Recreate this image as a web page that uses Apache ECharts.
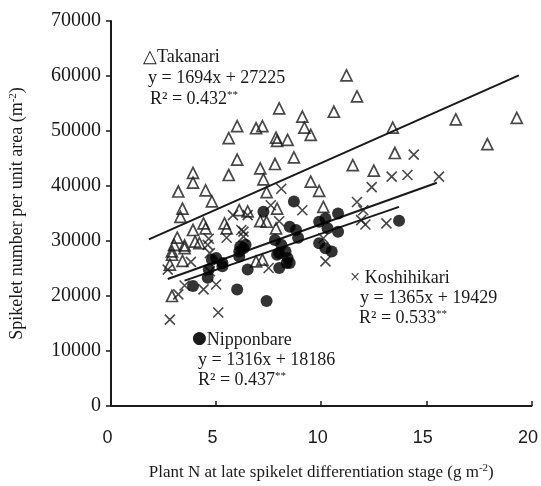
<!DOCTYPE html>
<html>
<head>
<meta charset="utf-8">
<script src="https://cdn.jsdelivr.net/npm/echarts@6/dist/echarts.min.js"></script>
<style>
  html, body { margin: 0; padding: 0; background: #fff; }
  #chart { width: 541px; height: 486px; }
</style>
</head>
<body>
<div id="chart"></div>
<script>
// points: [plant N (g m-2), spikelets (m-2)]
const takanari = [
  [11.2, 60100], [11.7, 56300], [10.6, 53500], [9.1, 52600], [9.2, 50600], [9.5, 49300],
  [13.4, 50600], [16.4, 52100], [19.3, 52400], [17.9, 47600], [13.5, 46000], [11.5, 43800],
  [12.5, 42800], [9.5, 40800], [9.9, 39100], [10.1, 36200], [8.0, 54100], [6.0, 50900],
  [6.9, 50500], [7.2, 50900], [5.6, 48700], [7.85, 48800], [7.9, 48200], [8.4, 48400],
  [6.0, 44800], [7.8, 44000], [8.7, 45200], [7.1, 43200], [5.6, 42000], [7.25, 41200],
  [3.9, 42400], [3.9, 40600], [4.5, 39200], [3.2, 39000], [7.4, 38900], [4.8, 37200],
  [3.4, 35900], [3.3, 34400], [7.9, 35900], [6.1, 35600], [6.5, 35400], [7.1, 33600],
  [4.4, 33200], [5.4, 33200], [7.4, 33500], [7.85, 32300], [7.2, 26600], [3.9, 32000],
  [3.15, 30600], [3.0, 29300], [3.5, 29200], [4.5, 32300], [4.2, 29600], [5.5, 32300],
  [2.9, 28100], [3.5, 28700], [2.9, 27500], [2.8, 25700], [3.4, 26400], [4.0, 29900],
  [2.9, 20000], [6.9, 26300]
];
const koshihikari = [
  [14.4, 45700], [13.35, 41700], [14.1, 42000], [15.6, 41700], [12.4, 39800], [11.7, 37100],
  [12.0, 35600], [11.9, 33800], [13.1, 33200], [9.1, 35600], [8.1, 39500], [7.6, 36500],
  [5.8, 34700], [12.1, 33000], [6.5, 34700], [8.0, 33600], [6.3, 31700], [10.1, 30500],
  [10.2, 26300], [4.65, 30400], [5.5, 30600], [6.2, 32000], [6.3, 30800], [2.7, 24800],
  [3.8, 26200], [3.2, 20300], [4.4, 21200], [5.0, 22100], [5.1, 17000], [2.8, 15700],
  [4.7, 24500], [4.7, 27800], [7.5, 25100], [4.6, 29300], [3.5, 21900]
];
const nipponbare = [
  [10.8, 35000], [10.2, 34100], [13.7, 33700], [8.7, 37200], [7.25, 35300], [8.5, 32600],
  [8.8, 32000], [8.9, 30600], [9.9, 33500], [10.3, 32300], [10.8, 31700], [9.9, 29600],
  [10.2, 28700], [10.5, 28100], [7.8, 30200], [8.1, 29300], [8.3, 28100], [8.4, 26900],
  [7.9, 27500], [6.4, 29300], [6.3, 28700], [8.35, 26000], [8.0, 25100], [8.0, 27800],
  [3.9, 21800], [4.6, 23300], [6.0, 21200], [6.5, 24800], [4.8, 26600], [5.3, 26000],
  [6.1, 28100], [7.4, 19100], [6.15, 29000], [6.1, 27200], [5.0, 26900], [5.3, 25400],
  [8.5, 26000], [4.65, 24800]
];

// regression line end points, as drawn
const takanariFit = [[1.8, 30300], [19.4, 60100]];
const koshihikariFit = [[2.7, 23100], [15.5, 40600]];
const nipponbareFit = [[3.5, 22800], [13.7, 36200]];

const xTicks = [0, 5, 10, 15, 20];
const yMax = 70000;

const serif = '"Liberation Serif", "Times New Roman", serif';
const sans = '"Liberation Sans", Arial, sans-serif';
const ink = '#1a1a1a';

const chart = echarts.init(document.getElementById('chart'), null, { renderer: 'canvas' });

const fitLine = (name, data) => ({
  name: name,
  type: 'line',
  data: data,
  showSymbol: false,
  silent: true,
  z: 1,
  lineStyle: { color: ink, width: 2 }
});

const supRich = {
  sup: { fontFamily: serif, fontSize: 11, color: ink, verticalAlign: 'top', padding: [0, 0, 8, 0] },
  dot: { fontFamily: '"DejaVu Sans", sans-serif', fontSize: 17, color: '#000', padding: [0, 0, 2, 0] }
};

const note = (text, x, y) => ({
  type: 'text',
  x: x,
  y: y,
  style: {
    text: text,
    font: '18px ' + serif,
    fill: ink,
    verticalAlign: 'middle',
    rich: supRich
  },
  z: 10
});

const option = {
  animation: false,
  backgroundColor: '#fff',
  grid: { left: 110, right: 8, top: 21, bottom: 77, containLabel: false },
  xAxis: {
    type: 'value',
    min: xTicks[0],
    max: xTicks[xTicks.length - 1],
    interval: 5,
    name: 'Plant N at late spikelet differentiation stage (g m{sup|-2})',
    nameLocation: 'middle',
    nameGap: 57,
    nameTextStyle: { fontFamily: serif, fontSize: 17, color: ink, rich: supRich },
    axisLine: { lineStyle: { color: ink, width: 2 } },
    axisTick: { inside: true, length: 5, lineStyle: { color: ink, width: 1.5 } },
    axisLabel: { fontFamily: sans, fontSize: 18, color: ink, margin: 23, padding: [0, 7, 0, 0] },
    splitLine: { show: false }
  },
  yAxis: {
    type: 'value',
    min: 0,
    max: yMax,
    interval: 10000,
    name: 'Spikelet number per unit area (m{sup|-2})',
    nameLocation: 'middle',
    nameGap: 84,
    nameTextStyle: { fontFamily: serif, fontSize: 18, color: ink, rich: supRich },
    axisLine: { lineStyle: { color: ink, width: 2 } },
    axisTick: { length: 5, lineStyle: { color: ink, width: 1.5 } },
    axisLabel: { fontFamily: serif, fontSize: 20, color: ink, margin: 10, formatter: v => String(v) },
    splitLine: { show: false }
  },
  series: [
    fitLine('Takanari fit', takanariFit),
    fitLine('Koshihikari fit', koshihikariFit),
    fitLine('Nipponbare fit', nipponbareFit),
    {
      name: 'Takanari',
      type: 'scatter',
      data: takanari,
      symbol: 'triangle',
      symbolSize: 11,
      z: 3,
      itemStyle: { color: 'rgba(0,0,0,0)', borderColor: ink, borderWidth: 1.7 }
    },
    {
      name: 'Koshihikari',
      type: 'scatter',
      data: koshihikari,
      symbol: 'path://M0,0L10,10M10,0L0,10',
      symbolSize: 10,
      z: 3,
      itemStyle: { color: 'rgba(0,0,0,0)', borderColor: ink, borderWidth: 1.6 }
    },
    {
      name: 'Nipponbare',
      type: 'scatter',
      data: nipponbare,
      symbol: 'circle',
      symbolSize: 12,
      z: 4,
      itemStyle: { color: '#000' }
    }
  ],
  graphic: [
    note('\u25B3Takanari', 143, 57),
    note('y = 1694x + 27225', 148, 78),
    note('R\u00B2 = 0.432{sup|**}', 150, 99),
    note('\u00D7 Koshihikari', 350, 278),
    note('y = 1365x + 19429', 360, 298),
    note('R\u00B2 = 0.533{sup|**}', 359, 318),
    note('{dot|\u25CF}Nipponbare', 192, 340),
    note('y = 1316x + 18186', 198, 360),
    note('R\u00B2 = 0.437{sup|**}', 198, 380)
  ]
};

chart.setOption(option);
window.addEventListener('resize', () => chart.resize());
</script>
</body>
</html>
